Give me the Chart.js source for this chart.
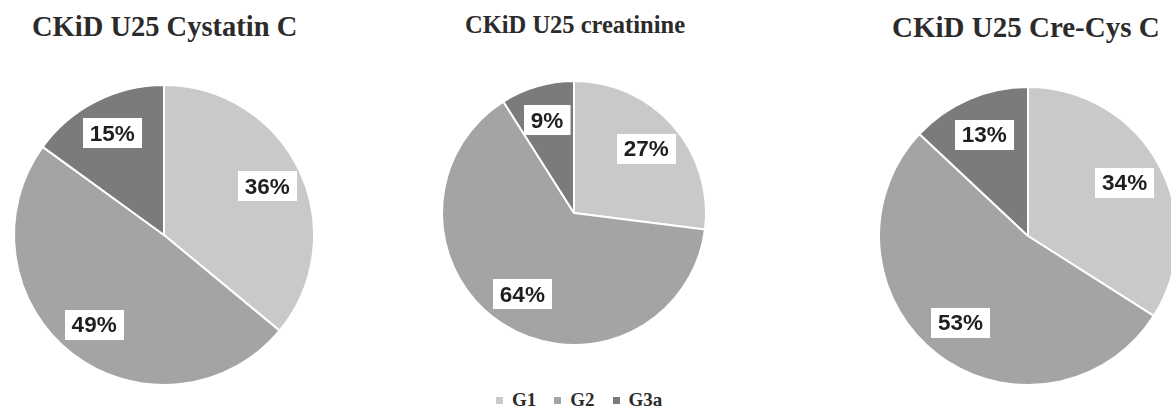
<!DOCTYPE html>
<html>
<head>
<meta charset="utf-8">
<script src="https://cdn.jsdelivr.net/npm/chart.js@4.4.0/dist/chart.umd.min.js"></script>
<style>
    html, body {
        margin: 0;
        padding: 0;
        background: #fff;
    }
    #stage {
        position: relative;
        width: 1171px;
        height: 408px;
        overflow: hidden;
        background: #fff;
    }
    .pie-box {
        position: absolute;
    }
    .title {
        position: absolute;
        font-family: "Liberation Serif", "Times New Roman", serif;
        font-weight: bold;
        color: #2b2b2b;
        white-space: nowrap;
        line-height: 1;
    }
    #legend {
        position: absolute;
        left: 487px;
        top: 390px;
        display: flex;
        font-family: "Liberation Serif", "Times New Roman", serif;
        font-weight: bold;
        font-size: 19px;
        color: #2b2b2b;
        line-height: 1;
    }
    #legend .item {
        display: flex;
        align-items: center;
        margin: 0 9px;
    }
    #legend .swatch {
        width: 7px;
        height: 7px;
        margin-right: 9px;
        margin-top: 2px;
    }
</style>
</head>
<body>
<div id="stage">
    <div class="title" style="left:32px; top:13px; font-size:28.5px;">CKiD U25 Cystatin C</div>
    <div class="title" style="left:465px; top:13px; font-size:24.5px;">CKiD U25 creatinine</div>
    <div class="title" style="left:892px; top:13px; font-size:29px;">CKiD U25 Cre-Cys C</div>
    <div id="legend"></div>
</div>

<script>
    // Categories and values (percent)
    const grades = ['G1', 'G2', 'G3a'];
    const cystatinValues = [36, 49, 15];
    const creatinineValues = [27, 64, 9];
    const creCysValues = [34, 53, 13];

    const sliceColors = ['#c9c9c9', '#a4a4a6', '#7b7b7e'];

    /**
     * Boxed percentage labels drawn on each slice
     */
    const boxLabels = {
        id: 'boxLabels',
        afterDatasetsDraw(chart, args, opts) {
            const ctx = chart.ctx;
            const meta = chart.getDatasetMeta(0);
            const values = chart.data.datasets[0].data;

            ctx.save();
            ctx.font = 'bold 22.5px "Liberation Sans", Arial, sans-serif';
            ctx.textAlign = 'center';
            ctx.textBaseline = 'middle';

            meta.data.forEach((arc, i) => {
                const mid = (arc.startAngle + arc.endAngle) / 2;
                const dist = arc.outerRadius * opts.dist;
                const x = arc.x + Math.cos(mid) * dist;
                const y = arc.y + Math.sin(mid) * dist;
                const text = `${values[i]}%`;
                const w = ctx.measureText(text).width + 14;
                const h = 30;

                ctx.fillStyle = '#ffffff';
                ctx.fillRect(Math.round(x - w / 2), Math.round(y - h / 2), w, h);
                ctx.fillStyle = '#1f1f1f';
                ctx.fillText(text, x, y + 1);
            });
            ctx.restore();
        }
    };

    /**
     * Build one pie centred at (cx, cy) with radius r
     */
    function makePie(values, cx, cy, r, labelDist) {
        const size = Math.ceil(r * 2 + 8);
        const box = document.createElement('div');
        box.className = 'pie-box';
        box.style.left = `${cx - size / 2}px`;
        box.style.top = `${cy - size / 2}px`;
        box.style.width = `${size}px`;
        box.style.height = `${size}px`;

        const canvas = document.createElement('canvas');
        canvas.width = size;
        canvas.height = size;
        box.appendChild(canvas);
        document.getElementById('stage').appendChild(box);

        return new Chart(canvas, {
            type: 'pie',
            data: {
                labels: grades,
                datasets: [{
                    data: values,
                    backgroundColor: sliceColors,
                    borderColor: '#ffffff',
                    borderWidth: 2
                }]
            },
            options: {
                responsive: false,
                animation: false,
                radius: r,
                layout: { padding: 0 },
                plugins: {
                    legend: { display: false },
                    tooltip: { enabled: false },
                    boxLabels: { dist: labelDist }
                }
            },
            plugins: [boxLabels]
        });
    }

    makePie(cystatinValues, 164, 235, 150, 0.76);
    makePie(creatinineValues, 574, 213, 132, 0.73);
    makePie(creCysValues, 1028, 236, 149, 0.74);

    // Shared legend
    const legend = document.getElementById('legend');
    grades.forEach((g, i) => {
        const item = document.createElement('div');
        item.className = 'item';
        const sw = document.createElement('span');
        sw.className = 'swatch';
        sw.style.background = sliceColors[i];
        const label = document.createElement('span');
        label.textContent = g;
        item.appendChild(sw);
        item.appendChild(label);
        legend.appendChild(item);
    });
</script>
</body>
</html>
